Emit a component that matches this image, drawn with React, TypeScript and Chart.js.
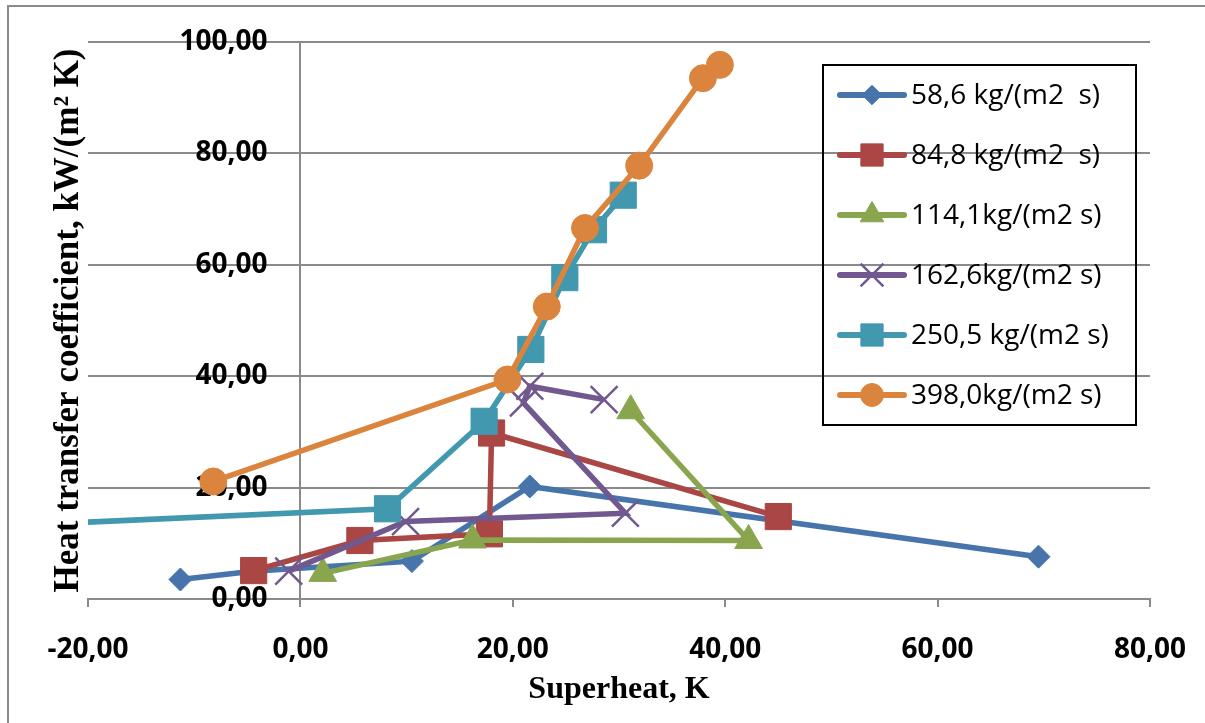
import React, { useEffect, useRef } from "react";
import { Chart, registerables } from "chart.js";
import { drawPoint } from "chart.js/helpers";

Chart.register(...registerables);

// ---- data ----
const seriesLabels = [
  "58,6 kg/(m2  s)",
  "84,8 kg/(m2  s)",
  "114,1kg/(m2 s)",
  "162,6kg/(m2 s)",
  "250,5 kg/(m2 s)",
  "398,0kg/(m2 s)",
];

const g58x = [-11.3, -4.5, 10.5, 21.6, 69.5];
const g58y = [3.5, 5.0, 6.8, 20.2, 7.6];

const g85x = [-4.4, 5.6, 17.8, 18.0, 45.0];
const g85y = [5.1, 10.5, 11.7, 29.8, 14.8];

const g114x = [2.1, 16.2, 42.2, 31.1];
const g114y = [4.6, 10.6, 10.5, 33.8];

const g163x = [-1.1, 9.9, 30.6, 21.0, 21.6, 28.6];
const g163y = [5.0, 13.9, 15.4, 35.2, 38.2, 35.8];

const g251x = [-40.0, 8.2, 17.3, 21.7, 24.9, 27.6, 30.4];
const g251y = [12.1, 16.2, 31.9, 44.8, 57.7, 66.3, 72.5];

const g398x = [-8.2, 19.5, 23.2, 26.8, 31.9, 37.9, 39.5];
const g398y = [21.1, 39.4, 52.5, 66.6, 77.8, 93.5, 95.9];

const xTicks = [-20, 0, 20, 40, 60, 80];
const yTicks = [0, 20, 40, 60, 80, 100];

const xTitle = "Superheat, K";
const yTitle = "Heat transfer coefficient, kW/(m\u00B2 K)";

// ---- styles ----
const colors = ["#4674AB", "#AA4643", "#89A54E", "#71588F", "#4198AF", "#DB843D"];
const pointStyles = ["rectRot", "rect", "triangle", "crossRot", "rect", "circle"];
const pointRadii = [11.5, 18.5, 16, 19, 18.5, 13.5];
const GRID = "#8a8a8a";
const TRANSPARENT = "rgba(0,0,0,0)";
const TICK_FONT = '"Open Sans", "DejaVu Sans", sans-serif';
const SERIF = '"Liberation Serif", "DejaVu Serif", serif';

const fmt = (v: number) => Number(v).toFixed(2).replace(".", ",");

const toPts = (xs: number[], ys: number[]) => xs.map((x, i) => ({ x, y: ys[i] }));
const seriesData = [
  toPts(g58x, g58y),
  toPts(g85x, g85y),
  toPts(g114x, g114y),
  toPts(g163x, g163y),
  toPts(g251x, g251y),
  toPts(g398x, g398y),
];

const zeroPad = (s: any) => {
  s.paddingLeft = 0;
  s.paddingRight = 0;
  s.paddingTop = 0;
  s.paddingBottom = 0;
};

const overlayPlugin = {
  id: "overlay",
  beforeDraw(chart: any) {
    const ctx = chart.ctx as CanvasRenderingContext2D;
    ctx.save();
    ctx.fillStyle = "#ffffff";
    ctx.fillRect(0, 0, chart.width, chart.height);
    ctx.strokeStyle = GRID;
    ctx.lineWidth = 2;
    ctx.beginPath();
    ctx.moveTo(8, chart.height + 2);
    ctx.lineTo(8, 6);
    ctx.lineTo(chart.width + 2, 6);
    ctx.stroke();
    ctx.restore();
  },
  afterDraw(chart: any) {
    const ctx = chart.ctx as CanvasRenderingContext2D;
    const area = chart.chartArea;
    ctx.save();
    // axis titles
    ctx.fillStyle = "#000";
    ctx.textAlign = "center";
    ctx.textBaseline = "middle";
    ctx.font = `bold 32px ${SERIF}`;
    ctx.fillText(xTitle, (area.left + area.right) / 2, 690);
    ctx.save();
    ctx.translate(69, (area.top + area.bottom) / 2);
    ctx.rotate(-Math.PI / 2);
    ctx.font = `bold 35px ${SERIF}`;
    ctx.fillText(yTitle, 0, 0);
    ctx.restore();

    // legend
    const bx = 823, by = 65, bw = 313, bh = 360;
    ctx.strokeStyle = "#000";
    ctx.lineWidth = 2;
    ctx.strokeRect(bx, by, bw, bh);
    ctx.font = `28px ${TICK_FONT}`;
    ctx.textAlign = "left";
    ctx.textBaseline = "middle";
    seriesLabels.forEach((label, i) => {
      const yy = 95 + i * 60;
      ctx.strokeStyle = colors[i];
      ctx.lineWidth = 6;
      ctx.lineCap = "round";
      ctx.beginPath();
      ctx.moveTo(840, yy);
      ctx.lineTo(904, yy);
      ctx.stroke();
      ctx.lineCap = "butt";
      ctx.fillStyle = colors[i];
      ctx.strokeStyle = colors[i];
      ctx.lineWidth = pointStyles[i] === "crossRot" ? 2.5 : 1;
      drawPoint(ctx, {
        pointStyle: pointStyles[i],
        radius: pointRadii[i] * 0.85,
        rotation: 0,
        borderWidth: pointStyles[i] === "crossRot" ? 2.5 : 1,
      } as any, 872, yy);
      ctx.fillStyle = "#000";
      ctx.fillText(label, 911, yy + 1);
    });
    ctx.restore();
  },
};

export default function App() {
  const ref = useRef<HTMLCanvasElement>(null);
  useEffect(() => {
    if (!ref.current) return;
    const datasets = seriesData.map((data, i) => ({
      label: seriesLabels[i],
      data,
      showLine: true,
      borderColor: colors[i],
      backgroundColor: colors[i],
      borderWidth: 5.5,
      pointStyle: pointStyles[i],
      pointRadius: pointRadii[i],
      pointBackgroundColor: colors[i],
      pointBorderColor: colors[i],
      pointBorderWidth: pointStyles[i] === "crossRot" ? 2.5 : 1,
      tension: 0,
      order: 6 - i,
    }));
    const chart = new Chart(ref.current, {
      type: "scatter",
      data: { datasets },
      options: {
        responsive: false,
        animation: false,
        devicePixelRatio: 1,
        layout: { padding: { left: 88, top: 42, right: 55, bottom: 0 } },
        plugins: {
          legend: { display: false },
          tooltip: { enabled: false },
        },
        scales: {
          x: {
            type: "linear",
            position: "bottom",
            min: -20,
            max: 80,
            afterBuildTicks: (s: any) => {
              s.ticks = xTicks.map((v) => ({ value: v }));
            },
            afterFit: (s: any) => {
              s.height = 124;
              zeroPad(s);
            },
            grid: {
              drawOnChartArea: true,
              drawTicks: true,
              tickLength: 8,
              color: (c: any) => (c.tick && c.tick.value === 0 ? GRID : TRANSPARENT),
              tickColor: GRID,
              lineWidth: 2,
            },
            border: { display: true, color: GRID, width: 2 },
            ticks: {
              color: "#000",
              font: { family: TICK_FONT, size: 28, weight: "bold" },
              padding: 26,
              maxRotation: 0,
              autoSkip: false,
              callback: (v: any) => fmt(v),
            },
          },
          y: {
            type: "linear",
            position: { x: -3.1 } as any,
            min: 0,
            max: 100,
            afterBuildTicks: (s: any) => {
              s.ticks = yTicks.map((v) => ({ value: v }));
            },
            afterFit: (s: any) => {
              zeroPad(s);
            },
            grid: { drawTicks: false, color: GRID, lineWidth: 2 },
            border: { display: false },
            ticks: {
              color: "#000",
              font: { family: TICK_FONT, size: 28, weight: "bold" },
              padding: 0,
              autoSkip: false,
              callback: (v: any) => fmt(v),
            },
          },
        },
      } as any,
      plugins: [overlayPlugin],
    });
    return () => chart.destroy();
  }, []);
  return (
    <div style={{ position: "fixed", left: 0, top: 0, width: 1205, height: 723, background: "#fff" }}>
      <canvas ref={ref} width={1205} height={723} style={{ display: "block" }} />
    </div>
  );
}
